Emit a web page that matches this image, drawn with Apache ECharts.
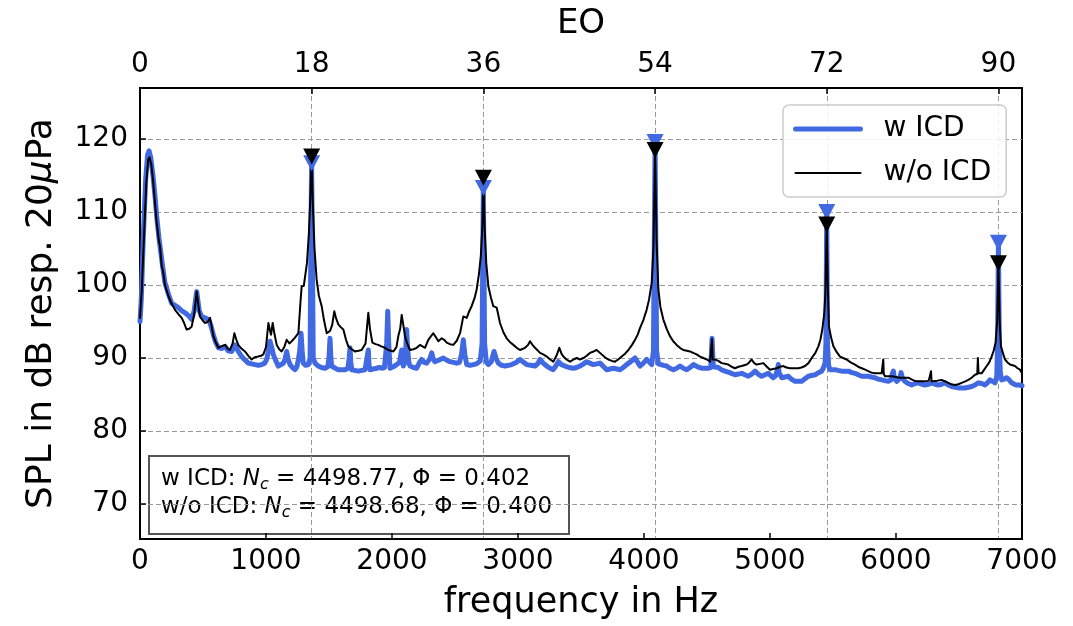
<!DOCTYPE html>
<html>
<head>
<meta charset="utf-8">
<script src="https://cdn.jsdelivr.net/npm/echarts@6/dist/echarts.min.js"></script>
<style>
html,body{margin:0;padding:0;background:#fff;}
#chart{width:1073px;height:626px;}
</style>
</head>
<body>
<div id="chart"></div>
<script>
// ---------------- data ----------------
const HZ_PER_EO = 75.7;
const freqTicks = [0, 1000, 2000, 3000, 4000, 5000, 6000, 7000];
const eoTicks = [0, 18, 36, 54, 72, 90];
const splTicks = [70, 80, 90, 100, 110, 120];

// w/o ICD (black)
const freqNoIcd = [0,13,30,50,65,75,90,103,120,132,150,159,172,183,198,225,250,278,305,331,350,370,390,410,430,450,465,476,495,516,540,556,570,582,600,622,645,675,695,714,735,749,765,780,805,833,860,886,910,939,960,979,1000,1019,1030,1040,1053,1065,1085,1105,1124,1145,1164,1185,1204,1230,1257,1275,1283,1300,1310,1325,1340,1352,1362,1372,1385,1402,1420,1442,1460,1482,1508,1525,1542,1555,1574,1595,1614,1635,1653,1680,1706,1735,1759,1790,1812,1825,1844,1870,1891,1915,1944,1971,2011,2035,2050,2065,2077,2090,2103,2120,2143,2170,2196,2222,2262,2288,2310,2328,2350,2368,2394,2415,2434,2460,2487,2515,2540,2566,2593,2610,2632,2655,2672,2690,2705,2717,2725,2735,2748,2765,2785,2804,2831,2845,2857,2885,2910,2935,2963,2990,3016,3056,3080,3095,3115,3135,3175,3200,3228,3255,3280,3305,3328,3345,3360,3385,3413,3440,3466,3492,3519,3545,3571,3600,3624,3645,3664,3690,3717,3745,3770,3795,3823,3850,3876,3905,3929,3950,3968,3995,4021,4040,4061,4075,4088,4100,4114,4130,4153,4180,4206,4232,4259,4285,4312,4340,4365,4390,4418,4445,4471,4500,4524,4535,4540,4545,4563,4590,4616,4645,4669,4695,4722,4750,4775,4795,4815,4835,4854,4875,4894,4920,4947,4975,5000,5025,5053,5080,5106,5130,5159,5190,5225,5250,5278,5305,5331,5360,5384,5400,5415,5430,5440,5450,5460,5468,5485,5503,5530,5556,5580,5608,5640,5675,5700,5728,5755,5780,5805,5833,5860,5886,5895,5899,5903,5913,5940,5966,6000,6032,6065,6098,6130,6164,6195,6230,6260,6275,6278,6282,6296,6330,6362,6390,6415,6440,6468,6495,6521,6550,6574,6600,6627,6645,6650,6655,6680,6700,6720,6740,6759,6775,6790,6803,6813,6823,6833,6850,6865,6885,6905,6925,6944,6965,6984,7000];
const splNoIcd = [95.5,99,106,114,117.2,117.5,116.5,114.4,111,108.6,106,105.3,102.6,101.9,100.0,98.5,97.5,96.6,96.0,95.5,94.8,93.9,94.0,94.3,96,99.1,97,95.7,95.2,94.8,95.0,95.5,94.2,93.0,92.2,91.4,91.6,91.8,91.3,91.1,92.0,93.4,92.5,91.8,91.3,90.9,90.3,89.8,90.1,90.2,90.3,90.5,91.5,94.8,93.9,93.2,94.8,93.5,91.8,91.2,90.9,91.5,92.5,92.0,92.3,92.8,93.4,98,99.8,99.9,100.1,103,107,112,117.6,111,105,100.7,98.5,97.1,95.2,93.4,93.7,94.5,96.4,95.5,94.6,94.2,93.9,92.5,91.6,91.2,90.9,91.0,91.1,92,96.2,94,92.1,91.9,91.8,91.6,91.4,91.1,90.9,91.5,93.0,94,95.9,94.5,93.0,92.0,91.1,91.2,91.4,91.8,91.4,92.5,93,93.4,92.8,92.3,92.7,92.5,92.1,91.9,91.8,92.4,93.4,95.7,95.5,96.3,97.1,98.2,99.4,101.5,104,108,114.7,108,103,99.8,98.3,97.1,96.9,95.8,94.8,93.5,92.7,92.2,91.8,91.4,91.1,91.4,91.8,92.3,91.8,91.4,90.7,90.5,90.2,89.8,89.5,90.3,91.4,90.6,90.2,89.8,89.5,89.8,90.0,89.8,90.0,90.3,90.7,90.9,91.1,90.8,90.5,90.1,89.8,89.6,89.5,89.8,90.2,90.6,91.1,91.8,92.5,93.2,94.1,95.2,96.6,98,100.3,105,118.5,106,99.4,97,95.3,94,93.0,92.3,91.8,91.4,91.1,91,90.9,90.7,90.5,90.2,90.0,89.8,89.5,89.6,92.6,89.8,89.8,89.6,89.3,89.2,89.1,88.8,88.6,88.8,88.9,89.0,89.1,89.4,89.8,89.3,89.1,89.2,89.3,88.8,88.4,88.5,88.6,88.8,88.9,88.7,88.6,88.6,88.6,88.7,88.9,89.3,90.0,90.7,91.6,92.5,93.9,96,99,108.3,99,94.3,92.8,91.6,90.8,90.2,90.0,89.8,89.4,89.1,88.8,88.6,88.4,88.2,88.0,87.9,87.9,87.9,88,89.8,87.8,87.5,87.5,87.5,87.4,87.3,87.3,87.3,87.0,86.8,86.8,86.8,86.9,86.9,88.2,86.8,86.8,86.9,87.0,86.8,86.6,86.4,86.3,86.4,86.6,86.8,87.0,87.3,87.7,87.8,90.0,87.9,87.9,88.4,88.9,89.4,90.2,91,92.1,95,103.0,95,91.6,90.6,89.8,89.4,89.1,89.0,88.9,88.6,88.4,87.9];

// w ICD (blue)
const freqIcd = [0,10,25,45,60,72,85,103,120,132,150,165,180,198,225,251,278,304,330,357,385,410,430,450,470,489,515,542,560,582,600,622,650,675,700,728,754,780,807,835,860,886,913,940,966,990,1005,1020,1032,1045,1058,1078,1098,1120,1138,1150,1164,1176,1191,1210,1230,1245,1257,1268,1278,1287,1296,1315,1336,1350,1356,1362,1368,1375,1389,1415,1440,1468,1490,1500,1508,1515,1521,1550,1574,1600,1627,1650,1660,1667,1673,1680,1705,1733,1760,1786,1800,1806,1812,1818,1825,1850,1878,1900,1918,1940,1958,1966,1974,1984,2010,2037,2060,2070,2077,2083,2090,2105,2116,2125,2135,2143,2170,2196,2222,2235,2255,2275,2288,2300,2315,2328,2341,2370,2407,2435,2460,2487,2513,2535,2552,2566,2578,2593,2620,2646,2670,2685,2700,2715,2725,2735,2748,2765,2788,2800,2810,2825,2844,2870,2897,2925,2950,2985,3016,3045,3069,3100,3135,3160,3175,3200,3228,3255,3280,3300,3320,3345,3373,3405,3439,3465,3492,3520,3545,3570,3598,3625,3651,3680,3704,3730,3757,3785,3810,3835,3862,3895,3929,3950,3968,3995,4021,4040,4061,4075,4088,4100,4114,4127,4155,4180,4205,4233,4260,4286,4312,4339,4365,4392,4425,4458,4485,4511,4530,4536,4540,4544,4550,4563,4590,4615,4643,4680,4722,4750,4775,4800,4828,4855,4881,4905,4934,4960,4987,5005,5026,5045,5060,5066,5072,5093,5120,5146,5170,5199,5225,5251,5280,5304,5330,5357,5385,5410,5425,5437,5444,5450,5456,5465,5476,5495,5516,5540,5569,5595,5622,5650,5675,5700,5728,5755,5780,5805,5833,5860,5886,5912,5939,5960,5970,5979,5988,6005,6030,6040,6045,6052,6071,6098,6124,6150,6177,6205,6230,6258,6283,6310,6336,6362,6389,6415,6442,6470,6495,6520,6548,6575,6601,6627,6653,6680,6706,6725,6746,6765,6786,6800,6806,6813,6820,6828,6839,6860,6878,6898,6918,6940,6958,6980,7000];
const splIcd = [95.0,98,106,114.5,117.8,118.4,117.5,115,112,109.5,106.5,104.5,102.5,100.3,98.8,97.5,97.2,96.9,96.5,96.2,95.8,95.3,96.5,99.1,96.5,95.7,95.5,95.3,94.6,93.2,92.2,91.4,91.3,91.6,91.0,90.9,91.8,90.9,90.2,89.7,89.3,89.2,89.1,89.0,89.1,89.3,89.8,91,92.3,91.5,90.5,89.6,88.9,89.1,89.3,89.8,90.9,89.8,89.1,88.7,88.4,88.8,89.8,91,93.4,91,89.3,89.0,89.1,90,105,116.7,105,90,89.3,88.9,88.7,88.6,88.8,90,92.7,90,88.9,88.6,88.4,88.4,88.4,88.6,90,91.4,89.5,88.4,88.3,88.2,88.3,88.4,88.6,90.5,91.1,89,88.4,88.5,88.6,88.7,88.6,88.7,92,96.4,92,88.6,88.8,89.1,89.4,90.5,91.1,90,88.9,89.5,93.9,91,89.3,88.9,88.7,88.6,89.5,89.8,89.4,89.3,89.5,89.9,90.7,89.8,89.5,89.7,90.0,89.7,89.5,89.4,89.3,89.4,90.5,92.5,90.5,89.1,89.0,89.1,89.2,89.3,89.6,92,113.3,92,89.5,89.1,89.5,90.3,90.9,90,89.3,89.0,88.9,89.0,89.1,89.4,89.8,89.4,89.1,89.0,88.9,89.3,89.8,89.3,88.9,88.6,88.4,88.9,89.5,89.1,88.9,88.7,88.6,88.7,88.9,89.2,89.5,89.3,89.1,89.2,89.3,88.8,88.4,88.5,88.6,88.5,88.4,88.7,89.1,89.5,90.0,89.4,88.9,89.3,89.8,89.5,89.1,91,119.6,91,89.2,89.1,89.0,88.9,88.6,88.4,88.6,88.9,88.6,88.4,88.7,89.1,88.8,88.6,88.6,88.6,88.7,91,92.7,91,88.8,88.8,88.7,88.4,88.2,88.0,87.7,87.8,87.9,87.7,87.5,87.8,88.2,87.8,87.5,87.7,87.9,87.6,87.3,87.6,88.5,89.1,88,87.3,87.4,87.5,87.1,86.8,86.8,86.8,87.2,87.5,87.6,87.7,88.0,88.2,88.7,89.3,92,110.0,92,89,88.4,88.4,88.4,88.3,88.2,88.2,88.2,88.0,87.9,87.7,87.5,87.5,87.5,87.4,87.3,87.1,87.0,86.9,86.8,87,87.8,88.2,87.2,86.8,87.2,88.0,88.2,87.2,86.8,86.5,86.3,86.5,86.6,86.4,86.3,86.4,86.6,86.4,86.3,86.4,86.6,86.3,86.1,86.0,85.9,85.9,85.9,86.0,86.1,86.3,86.6,86.5,86.3,86.6,87.0,86.8,86.6,87.5,92,105.8,92,88,87.0,87.1,87.3,87.0,86.6,86.4,86.3,86.3,86.2];

// peak markers (engine orders)
const peakEO = [18, 36, 54, 72, 90];
const peakIcd = [116.7, 113.3, 119.6, 110.0, 105.8];
const peakNoIcd = [117.6, 114.7, 118.5, 108.3, 103.0];

// ---------------- chart ----------------
const zip = (a, b) => a.map((v, i) => [v, b[i]]);
const FONT = 'DejaVu Sans';
const BLUE = '#4169E1';
const TICK_FS = 28;
const gridLine = { show: true, lineStyle: { color: '#9a9a9a', width: 1, type: [5, 3] } };

const chart = echarts.init(document.getElementById('chart'), null, { renderer: 'canvas' });
chart.setOption({
  animation: false,
  backgroundColor: '#fff',
  textStyle: { fontFamily: FONT, color: '#000' },
  grid: { left: 140, right: 51, top: 88, bottom: 87, show: true, borderColor: '#000', borderWidth: 2, backgroundColor: 'transparent', outerBoundsMode: 'none' },
  legend: {
    data: [
      { name: 'w ICD', lineStyle: { width: 5, color: BLUE }, itemStyle: { opacity: 0 } },
      { name: 'w/o ICD', lineStyle: { width: 2, color: '#000' }, itemStyle: { opacity: 0 } }
    ],
    orient: 'vertical', left: 783, top: 105,
    itemWidth: 65, itemHeight: 20, itemGap: 16,
    padding: [10, 15, 10, 10],
    backgroundColor: 'rgba(255,255,255,0.85)', borderColor: '#cccccc', borderWidth: 1.5, borderRadius: 6,
    textStyle: { fontFamily: FONT, fontSize: 28, color: '#000', padding: [0, 0, 0, 18] }
  },
  xAxis: [
    {
      type: 'value', position: 'bottom', min: 0, max: 7000, interval: 1000,
      name: 'frequency in Hz', nameLocation: 'middle', nameGap: 46,
      nameTextStyle: { fontFamily: FONT, fontSize: 35, color: '#000' },
      axisLine: { show: true, onZero: false, lineStyle: { color: '#000', width: 2 } },
      axisTick: { show: true, inside: true, length: 6, customValues: freqTicks, lineStyle: { color: '#000', width: 1.5 } },
      axisLabel: { fontFamily: FONT, fontSize: TICK_FS, color: '#000', margin: 9, customValues: freqTicks, formatter: v => String(v) },
      splitLine: { show: false }
    },
    {
      type: 'value', position: 'top', min: 0, max: 7000 / HZ_PER_EO,
      name: 'EO', nameLocation: 'middle', nameGap: 47,
      nameTextStyle: { fontFamily: FONT, fontSize: 34, color: '#000' },
      axisLine: { show: true, onZero: false, lineStyle: { color: '#000', width: 2 } },
      axisTick: { show: true, inside: true, length: 6, customValues: eoTicks, lineStyle: { color: '#000', width: 1.5 } },
      axisLabel: { fontFamily: FONT, fontSize: TICK_FS, color: '#000', margin: 9, customValues: eoTicks, formatter: v => String(v) },
      splitLine: gridLine
    }
  ],
  yAxis: {
    type: 'value', min: 65.2, max: 127,
    name: 'SPL in dB resp. 20{m|μ}Pa', nameLocation: 'middle', nameGap: 80, nameRotate: 90,
    nameTextStyle: { fontFamily: FONT, fontSize: 36, color: '#000', rich: { m: { fontFamily: FONT, fontSize: 36, fontStyle: 'italic', color: '#000' } } },
    axisLine: { show: true, onZero: false, lineStyle: { color: '#000', width: 2 } },
    axisTick: { show: true, inside: true, length: 6, customValues: splTicks, lineStyle: { color: '#000', width: 1.5 } },
    axisLabel: { fontFamily: FONT, fontSize: TICK_FS, color: '#000', margin: 12, customValues: splTicks, formatter: v => String(v) },
    splitLine: gridLine
  },
  series: [
    {
      name: 'w ICD', type: 'line', xAxisIndex: 0, yAxisIndex: 0,
      data: zip(freqIcd, splIcd), symbol: 'none', showSymbol: false,
      lineStyle: { color: BLUE, width: 5, join: 'round', cap: 'round' },
      itemStyle: { color: BLUE }, z: 2
    },
    {
      name: 'w/o ICD', type: 'line', xAxisIndex: 0, yAxisIndex: 0,
      data: zip(freqNoIcd, splNoIcd), symbol: 'none', showSymbol: false,
      lineStyle: { color: '#000', width: 2, join: 'round', cap: 'round' },
      itemStyle: { color: '#000' }, z: 3
    },
    {
      name: 'peak w ICD', type: 'scatter', xAxisIndex: 1, yAxisIndex: 0,
      data: zip(peakEO, peakIcd), symbol: 'triangle', symbolRotate: 180, symbolSize: [17, 16],
      itemStyle: { color: BLUE, opacity: 1 }, z: 4
    },
    {
      name: 'peak w/o ICD', type: 'scatter', xAxisIndex: 1, yAxisIndex: 0,
      data: zip(peakEO, peakNoIcd), symbol: 'triangle', symbolRotate: 180, symbolSize: [17, 16],
      itemStyle: { color: '#000', opacity: 1 }, z: 5
    }
  ],
  graphic: [
    {
      type: 'group', left: 148, top: 455, z: 100,
      children: [
        { type: 'rect', shape: { x: 0, y: 0, width: 420, height: 78 }, style: { fill: '#fff', stroke: '#555', lineWidth: 2 } },
        {
          type: 'text', x: 12, y: 9,
          style: {
            text: 'w ICD: {i|N}{s|c}{t| = 4498.77, Φ = 0.402}\nw/o ICD: {i|N}{s|c}{t| = 4498.68, Φ = 0.400}',
            font: '23px "DejaVu Sans"', fill: '#000', lineHeight: 28,
            rich: {
              i: { fontFamily: FONT, fontSize: 23, fontStyle: 'italic', lineHeight: 28 },
              s: { fontFamily: FONT, fontSize: 16, fontStyle: 'italic', verticalAlign: 'bottom', lineHeight: 16 },
              t: { fontFamily: FONT, fontSize: 23, lineHeight: 28 }
            }
          }
        }
      ]
    }
  ]
});
</script>
</body>
</html>
